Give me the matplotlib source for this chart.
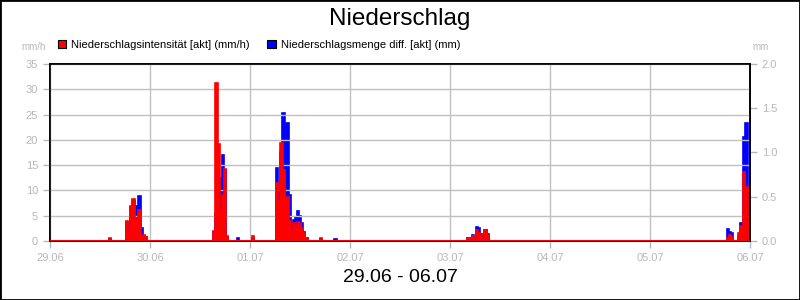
import matplotlib.pyplot as plt
from matplotlib.patches import Rectangle

plt.rcParams['font.family'] = ['Liberation Sans', 'DejaVu Sans']

titel = "Niederschlag"
zeitraum = "29.06 - 06.07"
tage = ["29.06", "30.06", "01.07", "02.07", "03.07", "04.07", "05.07", "06.07"]

# Stunden ab 29.06 00:00
stunden = [14.4,
           18.5, 19.0, 19.5, 20.0, 20.5, 21.0, 21.5, 22.0, 22.5, 23.0,
           39.5, 40.0, 40.5, 41.0, 41.5, 42.0, 42.5, 45.1, 48.7,
           54.5, 55.0, 55.5, 56.0, 56.5, 57.0, 57.5, 58.0, 58.5, 59.0,
           59.5, 60.0, 60.5, 61.0, 61.5, 65.0, 68.5,
           100.5, 101.5, 102.5, 103.0, 103.5, 104.5, 105.0,
           162.7, 163.2, 163.7, 165.4, 166.0, 166.6, 167.2, 167.7]

# Niederschlagsintensität [mm/h]
intensitaet = [0.5,
               4.0, 1.5, 7.0, 8.3, 2.5, 4.5, 6.1, 1.0, 1.2, 0.8,
               2.0, 31.2, 19.2, 6.0, 9.0, 14.2, 1.0, 0.0, 1.0,
               11.4, 8.0, 19.4, 14.0, 3.0, 8.7, 4.0, 2.0, 3.5, 2.5,
               3.8, 3.5, 2.5, 1.5, 0.5, 0.6, 0.0,
               0.6, 1.0, 2.2, 1.5, 1.2, 2.2, 1.2,
               0.5, 1.2, 0.7, 1.6, 3.0, 13.6, 10.6, 4.0]

# Niederschlagsmenge diff. [mm]
menge = [0.02,
         0.22, 0.10, 0.38, 0.45, 0.20, 0.40, 0.51, 0.15, 0.06, 0.04,
         0.10, 0.30, 0.35, 0.71, 0.97, 0.80, 0.05, 0.03, 0.03,
         0.82, 0.55, 1.00, 1.45, 0.30, 1.33, 0.52, 0.20, 0.24, 0.27,
         0.34, 0.28, 0.20, 0.10, 0.03, 0.02, 0.02,
         0.03, 0.07, 0.16, 0.15, 0.08, 0.12, 0.08,
         0.14, 0.10, 0.09, 0.05, 0.20, 1.17, 1.33, 0.30]

fig = plt.figure(figsize=(8, 3), dpi=100)
fig.patch.set_facecolor("white")
fig.patches.append(Rectangle((0, 0), 1, 1, transform=fig.transFigure,
                             fill=False, edgecolor="black", linewidth=2))

ax = fig.add_axes([0.0625, 0.1967, 0.875, 0.59])
ax2 = ax.twinx()
ax.set_zorder(ax2.get_zorder() + 1)
ax.patch.set_visible(False)

# blaue Menge (rechte Achse) hinter roter Intensität
b2 = ax2.bar(stunden, menge, width=0.6, color="#0000ff", edgecolor="#0000ff",
             linewidth=1.2, label="Niederschlagsmenge diff. [akt] (mm)")
b1 = ax.bar(stunden, intensitaet, width=0.6, color="#ff0000", edgecolor="#ff0000",
            linewidth=1.2, label="Niederschlagsintensität [akt] (mm/h)")
ax.axhline(0, color="#ff0000", linewidth=1.5, zorder=3)

ax.set_xlim(0, 168)
ax.set_ylim(0, 35)
ax2.set_ylim(0, 2.0)
ax.set_xticks(range(0, 169, 24))
ax.set_xticklabels(tage)
ax.set_yticks(range(0, 36, 5))
ax2.set_yticks([0, 0.5, 1.0, 1.5, 2.0])
ax2.set_yticklabels(["0.0", "0.5", "1.0", "1.5", "2.0"])

ax.set_axisbelow(True)
ax.grid(True, color="#c0c0c0", linewidth=1.0)

grau = "#b8b8b8"
for a in (ax, ax2):
    a.tick_params(colors=grau, labelcolor=grau, labelsize=8, length=5, width=1)
    for s in a.spines.values():
        s.set_color("black")
        s.set_linewidth(1.2)

fig.text(0.5, 0.935, titel, ha="center", va="center", fontsize=17.5)
fig.text(0.5, 0.075, zeitraum, ha="center", va="center", fontsize=14)
fig.text(0.027, 0.845, "mm/h", ha="left", va="center", fontsize=7, color=grau)
fig.text(0.94, 0.845, "mm", ha="left", va="center", fontsize=7, color=grau)

leg = fig.legend(handles=[b1, b2], loc="center left", bbox_to_anchor=(0.072, 0.85),
                 ncol=2, frameon=False, fontsize=8, handlelength=0.8,
                 handleheight=0.8, handletextpad=0.4, columnspacing=1.6,
                 borderpad=0, borderaxespad=0)
for h in leg.legend_handles:
    h.set_edgecolor("black")
    h.set_linewidth(0.8)

plt.savefig("out.png", dpi=100)
